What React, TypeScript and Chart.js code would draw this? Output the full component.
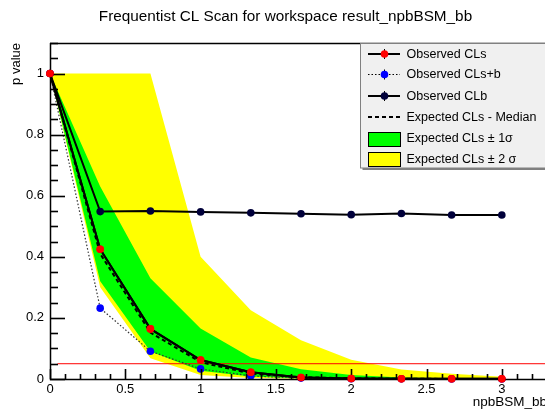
import React, { useEffect, useRef } from "react";
import { Chart, registerables } from "chart.js";

Chart.register(...registerables);

// ---- Data ----
const scanPoints = [0, 0.3333, 0.6667, 1, 1.3333, 1.6667, 2, 2.3333, 2.6667, 3];
const observedCLs = [1, 0.425, 0.164, 0.062, 0.022, 0.005, 0.0015, 0.001, 0.0008, 0.0006];
const observedCLsb = [1, 0.232, 0.091, 0.033, 0.01, 0.003, 0.001, 0.0005, 0.0003, 0.0002];
const observedCLb = [1, 0.548, 0.55, 0.547, 0.544, 0.541, 0.538, 0.542, 0.537, 0.537];
const expectedMedian = [1, 0.41, 0.152, 0.055, 0.018, 0.006, 0.002, 0.0007, 0.0003, 0.0001];
const expectedUp1 = [1, 0.63, 0.33, 0.165, 0.07, 0.032, 0.013, 0.005, 0.002, 0.001];
const expectedDn1 = [1, 0.32, 0.09, 0.027, 0.008, 0.002, 0.0007, 0.0002, 0.0001, 0];
const expectedUp2 = [1, 1, 1, 0.4, 0.225, 0.127, 0.063, 0.031, 0.017, 0.007];
const expectedDn2 = [1, 0.3, 0.068, 0.013, 0.003, 0.0008, 0.0002, 0.0001, 0, 0];

const thresholdLevel = 0.05;
const thresholdStart = 0.05;
const xMin = 0;
const xMax = 3.3;
const yMin = 0;
const yMax = 1.1;
const yMinorStep = 0.05;
const xMinorStep = 0.1;

const titleText = "Frequentist CL Scan for workspace result_npbBSM_bb";
const xTitle = "npbBSM_bb";
const yTitle = "p value";
const legendLabels = [
  "Observed CLs",
  "Observed CLs+b",
  "Observed CLb",
  "Expected CLs - Median",
  "Expected CLs \u00b1 1\u03c3",
  "Expected CLs \u00b1 2 \u03c3",
];

const FONT = '"Liberation Sans", Arial, Helvetica, sans-serif';

const pts = (ys: number[]) => scanPoints.map((x, i) => ({ x, y: ys[i] }));

function drawFrame(chart: any) {
  const ctx: CanvasRenderingContext2D = chart.ctx;
  const area = chart.chartArea;
  const left = area.left;
  const right = area.right;
  const top = area.top;
  const bottom = area.bottom;
  const yPix = (v: number) => bottom - ((v - yMin) / (yMax - yMin)) * (bottom - top);
  const xPix = (v: number) => left + ((v - xMin) / (xMax - xMin)) * (right - left);
  ctx.save();
  ctx.setLineDash([]);
  ctx.strokeStyle = "#000000";
  ctx.lineWidth = 1.5;
  ctx.beginPath();
  ctx.moveTo(left, top + 0.5);
  ctx.lineTo(600, top + 0.5);
  ctx.moveTo(left + 0.5, top);
  ctx.lineTo(left + 0.5, bottom + 0.5);
  ctx.lineTo(600, bottom + 0.5);
  ctx.stroke();
  ctx.fillStyle = "#000000";
  const ny = Math.round((yMax - yMin) / yMinorStep);
  for (let i = 0; i <= ny; i++) {
    const py = yPix(yMin + i * yMinorStep);
    const len = i % 4 === 0 ? 15 : 8;
    ctx.fillRect(left, Math.round(py) - 0.3, len, 1.6);
  }
  const nx = Math.round((xMax - xMin) / xMinorStep);
  for (let i = 0; i <= nx; i++) {
    const px = xPix(xMin + i * xMinorStep);
    const len = i % 5 === 0 ? 10 : 5;
    ctx.fillRect(Math.round(px) - 0.3, bottom - len, 1.6, len);
  }
  ctx.restore();
}

function drawTexts(chart: any) {
  const ctx = chart.ctx;
  const top = chart.chartArea.top;
  ctx.save();
  ctx.fillStyle = "#000";
  ctx.font = `15.3px ${FONT}`;
  ctx.textAlign = "center";
  ctx.textBaseline = "alphabetic";
  ctx.fillText(titleText, 285.5, 20.5);
  ctx.font = `13.5px ${FONT}`;
  ctx.textAlign = "right";
  ctx.fillText(xTitle, 547, 406);
  ctx.save();
  ctx.translate(20, top);
  ctx.rotate(-Math.PI / 2);
  ctx.font = `13px ${FONT}`;
  ctx.textAlign = "right";
  ctx.fillText(yTitle, 0, 0);
  ctx.restore();
  ctx.restore();
}

function drawLegend(chart: any) {
  const ctx = chart.ctx;
  ctx.save();
  const lx = 360.5;
  const ly = 43.5;
  const lw = 200;
  const lh = 124.5;
  ctx.fillStyle = "#f0f0f0";
  ctx.fillRect(lx, ly, lw, lh);
  ctx.strokeStyle = "#808080";
  ctx.lineWidth = 1;
  ctx.strokeRect(lx, ly, lw, lh);
  ctx.fillStyle = "#808080";
  ctx.fillRect(lx + 2, ly + lh, lw, 2);

  const rows = [54, 74.5, 96, 117, 138.5, 159];
  const sx0 = 368;
  const sx1 = 400;
  const mx = 384;
  const lineRow = (y: number, dash: number[], width: number, color: string | null) => {
    ctx.save();
    ctx.strokeStyle = "#000";
    ctx.lineWidth = width;
    ctx.setLineDash(dash);
    ctx.beginPath();
    ctx.moveTo(sx0, y);
    ctx.lineTo(sx1, y);
    ctx.stroke();
    ctx.setLineDash([]);
    if (color) {
      ctx.lineWidth = 1;
      ctx.beginPath();
      ctx.moveTo(mx + 0.5, y - 5);
      ctx.lineTo(mx + 0.5, y + 5);
      ctx.stroke();
      ctx.fillStyle = color;
      ctx.beginPath();
      ctx.arc(mx + 0.5, y, 3.8, 0, Math.PI * 2);
      ctx.fill();
    }
    ctx.restore();
  };
  lineRow(rows[0], [], 2, "#ff0000");
  lineRow(rows[1], [1.5, 2], 1.2, "#0000ff");
  lineRow(rows[2], [], 2, "#00003a");
  lineRow(rows[3], [4, 3], 2, null);
  const boxRow = (y: number, color: string) => {
    ctx.fillStyle = color;
    ctx.fillRect(sx0 + 0.5, y - 7, sx1 - sx0, 14);
    ctx.strokeStyle = "#000";
    ctx.lineWidth = 1;
    ctx.strokeRect(sx0 + 0.5, y - 7, sx1 - sx0, 14);
  };
  boxRow(Math.round(rows[4]) + 0.5, "#00ff00");
  boxRow(Math.round(rows[5]) + 0.5, "#ffff00");

  ctx.fillStyle = "#000";
  ctx.font = `12.5px ${FONT}`;
  ctx.textAlign = "left";
  ctx.textBaseline = "middle";
  legendLabels.forEach((t, i) => ctx.fillText(t, 406.5, rows[i] + 0.5));
  ctx.restore();
}

const rootPlugin = {
  id: "rootStyle",
  afterDraw(chart: any) {
    drawFrame(chart);
    const meta = chart.getDatasetMeta(0);
    if (meta && meta.controller) meta.controller.draw();
    drawTexts(chart);
    drawLegend(chart);
  },
};

export default function App() {
  const ref = useRef<HTMLCanvasElement | null>(null);
  useEffect(() => {
    if (!ref.current) return;
    const markerBase = {
      borderColor: "#000",
      pointBorderWidth: 0,
      pointRadius: 3.8,
      pointHoverRadius: 3.8,
      fill: false,
      clip: false as any,
      tension: 0,
    };
    const bandBase = {
      borderColor: "rgba(0,0,0,0)",
      borderWidth: 0,
      pointRadius: 0,
      tension: 0,
    };
    const chart = new Chart(ref.current, {
      type: "line",
      data: {
        datasets: [
          { ...markerBase, label: legendLabels[0], data: pts(observedCLs), borderWidth: 2, pointBackgroundColor: "#ff0000" },
          { ...markerBase, label: legendLabels[1], data: pts(observedCLsb), borderWidth: 1.2, borderColor: "#333", borderDash: [1.5, 2], pointBackgroundColor: "#0000ff" },
          { ...markerBase, label: legendLabels[2], data: pts(observedCLb), borderWidth: 2, pointBackgroundColor: "#00003a" },
          { label: legendLabels[3], data: pts(expectedMedian), borderColor: "#000", borderWidth: 2, borderDash: [4, 3], pointRadius: 0, fill: false, tension: 0 },
          { label: "CL threshold", data: [{ x: thresholdStart, y: thresholdLevel }, { x: xMax, y: thresholdLevel }], borderColor: "#ff0000", borderWidth: 1, pointRadius: 0, fill: false },
          { ...bandBase, label: "+1 sigma", data: pts(expectedUp1), backgroundColor: "#00ff00", fill: 6 },
          { ...bandBase, label: "-1 sigma", data: pts(expectedDn1), fill: false },
          { ...bandBase, label: "+2 sigma", data: pts(expectedUp2), backgroundColor: "#ffff00", fill: 8 },
          { ...bandBase, label: "-2 sigma", data: pts(expectedDn2), fill: false },
        ] as any,
      },
      options: {
        responsive: false,
        animation: false,
        events: [],
        layout: { padding: { top: 43, right: 13, left: 0, bottom: 0 } },
        plugins: {
          legend: { display: false },
          title: { display: false },
          tooltip: { enabled: false },
        },
        scales: {
          x: {
            type: "linear",
            min: xMin,
            max: xMax,
            afterFit: (s: any) => {
              s.height = 33;
            },
            grid: { display: false, drawTicks: false },
            border: { display: false },
            ticks: {
              stepSize: 0.5,
              includeBounds: false,
              padding: 3,
              color: "#000",
              maxRotation: 0,
              autoSkip: false,
              font: { family: FONT, size: 13 },
              callback: (v: any) => String(Math.round(Number(v) * 10) / 10),
            },
          },
          y: {
            type: "linear",
            min: yMin,
            max: yMax,
            afterFit: (s: any) => {
              s.width = 50;
            },
            grid: { display: false, drawTicks: false },
            border: { display: false },
            ticks: {
              stepSize: 0.2,
              includeBounds: false,
              padding: 6,
              color: "#000",
              autoSkip: false,
              font: { family: FONT, size: 13 },
              callback: (v: any) => String(Math.round(Number(v) * 10) / 10),
            },
          },
        },
      } as any,
      plugins: [rootPlugin],
    });
    return () => chart.destroy();
  }, []);

  return (
    <div
      style={{
        position: "fixed",
        left: 0,
        top: 0,
        width: 545,
        height: 412,
        overflow: "hidden",
        background: "#fff",
      }}
    >
      <canvas ref={ref} width={560} height={412} style={{ display: "block" }} />
    </div>
  );
}
